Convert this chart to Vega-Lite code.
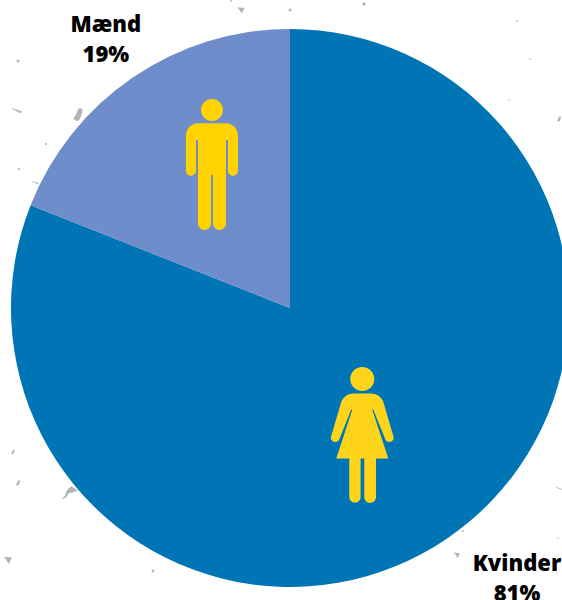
{
  "$schema": "https://vega.github.io/schema/vega-lite/v6.json",
  "width": 562,
  "height": 600,
  "padding": 0,
  "autosize": {"type": "none"},
  "background": "#ffffff",
  "config": {"view": {"stroke": null}},
  "datasets": {
    "shares": [
      {"gender": "Kvinder", "share": 81, "order": 1},
      {"gender": "Mænd", "share": 19, "order": 2}
    ],
    "specks": [
      {"x": -0.2115, "y": 1.1004, "kind": "dot", "mass": 3},
      {"x": -0.1756, "y": 1.0681, "kind": "flake", "mass": 49},
      {"x": 0.0, "y": 1.0681, "kind": "dot", "mass": 8},
      {"x": 0.2652, "y": 1.0896, "kind": "dot", "mass": 12},
      {"x": 0.8136, "y": 1.0287, "kind": "dot", "mass": 3},
      {"x": 0.8602, "y": 0.8925, "kind": "streak", "mass": 16},
      {"x": 0.7849, "y": 0.7455, "kind": "streak", "mass": 12},
      {"x": 0.9642, "y": 0.6774, "kind": "blob", "mass": 36},
      {"x": -0.9749, "y": 0.8853, "kind": "dot", "mass": 10},
      {"x": -0.9785, "y": 0.7097, "kind": "streak", "mass": 110},
      {"x": -0.7599, "y": 0.6918, "kind": "blob", "mass": 196},
      {"x": -0.8746, "y": 0.5878, "kind": "dot", "mass": 5},
      {"x": -0.9713, "y": 0.4982, "kind": "dot", "mass": 5},
      {"x": -0.914, "y": 0.4516, "kind": "streak", "mass": 60},
      {"x": -0.9928, "y": -0.5161, "kind": "blob", "mass": 25},
      {"x": -0.9749, "y": -0.6272, "kind": "blob", "mass": 36},
      {"x": -0.7885, "y": -0.6595, "kind": "wisp", "mass": 225},
      {"x": -1.0108, "y": -0.9032, "kind": "flake", "mass": 64},
      {"x": -0.491, "y": -0.9427, "kind": "dot", "mass": 8},
      {"x": 0.5986, "y": -0.8853, "kind": "flake", "mass": 36},
      {"x": 0.6201, "y": -0.7993, "kind": "dot", "mass": 4},
      {"x": 0.9642, "y": -0.6452, "kind": "streak", "mass": 36},
      {"x": 0.9606, "y": -0.8244, "kind": "dot", "mass": 2},
      {"x": 0.957, "y": -0.9498, "kind": "dot", "mass": 2}
    ]
  },
  "layer": [
    {
      "description": "Grey paper flecks behind the pie",
      "data": {"name": "specks"},
      "mark": {"type": "point", "filled": true, "opacity": 1, "color": "#b0b5ba", "strokeWidth": 0},
      "encoding": {
        "x": {"field": "x", "type": "quantitative", "scale": {"domain": [-1.0394, 0.9749], "nice": false, "zero": false}, "axis": null},
        "y": {"field": "y", "type": "quantitative", "scale": {"domain": [-1.0466, 1.1039], "nice": false, "zero": false}, "axis": null},
        "shape": {
          "field": "kind",
          "type": "nominal",
          "legend": null,
          "scale": {
            "domain": ["dot", "streak", "blob", "wisp", "flake"],
            "range": [
              "circle",
              "M-1,-0.35 L0.9,0.25 A0.3,0.3 0 0 1 0.7,0.6 L-1,-0.2 Z",
              "M0.35,-0.95 C0.7,-0.95 0.75,-0.5 0.55,-0.2 C0.45,0.2 0.3,0.6 0.1,0.75 C-0.2,0.95 -0.7,0.8 -0.6,0.4 C-0.4,0.1 -0.2,-0.2 -0.1,-0.55 C-0.05,-0.8 0.1,-0.95 0.35,-0.95 Z",
              "M0.18,-0.77 L1.1,-0.18 L-0.2,0.2 Q-0.4,0.8 -1,0.95 L-1,0.8 Q-0.6,0.6 -0.5,0 Q-0.3,-0.5 0.18,-0.77 Z",
              "M-1,-0.8 L1,-0.6 L0.2,1 Z"
            ]
          }
        },
        "size": {"field": "mass", "type": "quantitative", "legend": null, "scale": null}
      }
    },
    {
      "description": "Pie of the gender split, clockwise from twelve o'clock",
      "data": {"name": "shares"},
      "mark": {"type": "arc", "outerRadius": 279, "innerRadius": 0},
      "encoding": {
        "x": {"datum": 0, "type": "quantitative"},
        "y": {"datum": 0, "type": "quantitative"},
        "theta": {"field": "share", "type": "quantitative", "stack": true, "scale": {"domain": [0, 100]}},
        "order": {"field": "order"},
        "color": {
          "field": "gender",
          "type": "nominal",
          "legend": null,
          "scale": {"domain": ["Kvinder", "Mænd"], "range": ["#0075b5", "#6f8ccb"]}
        }
      }
    },
    {
      "description": "Man pictogram; path units are pixels at size 4",
      "mark": {
        "type": "point",
        "filled": true,
        "opacity": 1,
        "size": 4,
        "color": "#ffd200",
        "strokeWidth": 0,
        "shape": "M-14,-41.7 H14 C21,-41.7 26,-36 26,-29 V5.7 A5,5 0 0 1 16,5.7 V-25 H14 V58.5 A6.5,6.5 0 0 1 1,58.5 V10 H-1 V58.5 A6.5,6.5 0 0 1 -14,58.5 V-25 H-16 V5.7 A5,5 0 0 1 -26,5.7 V-29 C-26,-36 -21,-41.7 -14,-41.7 Z M11,-55 A11,11 0 1 1 -11,-55 A11,11 0 1 1 11,-55 Z"
      },
      "data": {"values": [{"gender": "Mænd"}]},
      "encoding": {
        "x": {"datum": -0.2796, "type": "quantitative"},
        "y": {"datum": 0.5125, "type": "quantitative"}
      }
    },
    {
      "description": "Woman pictogram; path units are pixels at size 4",
      "mark": {
        "type": "point",
        "filled": true,
        "opacity": 1,
        "size": 4,
        "color": "#ffd51c",
        "strokeWidth": 0,
        "shape": "M-9,-41.3 H9 C14,-41.3 19,-38 21,-33 L30.7,0.3 A4.2,4.2 0 0 1 23.3,5.3 L11,-25.3 L10,-25 L26,23.7 H13.7 V62.2 A5.85,5.85 0 0 1 2,62.2 V23.7 H-1.7 V62.2 A5.65,5.65 0 0 1 -13,62.2 V23.7 H-26 L-10,-25 L-11,-25.3 L-23.3,5.3 A4.2,4.2 0 0 1 -30.7,0.3 L-21,-33 C-19,-38 -14,-41.3 -9,-41.3 Z M12,-55.7 A12,12 0 1 1 -12,-55.7 A12,12 0 1 1 12,-55.7 Z"
      },
      "data": {"values": [{"gender": "Kvinder"}]},
      "encoding": {
        "x": {"datum": 0.2591, "type": "quantitative"},
        "y": {"datum": -0.4541, "type": "quantitative"}
      }
    },
    {
      "description": "Label for the men's slice",
      "data": {"name": "shares"},
      "transform": [
        {"filter": "datum.gender === 'Mænd'"},
        {"calculate": "datum.gender + '|' + datum.share + '%'", "as": "caption"}
      ],
      "mark": {"type": "text", "font": "Open Sans", "fontWeight": 800, "fontSize": 22, "lineBreak": "|", "lineHeight": 30, "align": "center", "baseline": "middle", "color": "#000000"},
      "encoding": {
        "x": {"datum": -0.66, "type": "quantitative"},
        "y": {"datum": 1.0145, "type": "quantitative"},
        "text": {"field": "caption"}
      }
    },
    {
      "description": "Label for the women's slice, running off the lower edge",
      "data": {"name": "shares"},
      "transform": [
        {"filter": "datum.gender === 'Kvinder'"},
        {"calculate": "datum.gender + '|' + datum.share + '%'", "as": "caption"}
      ],
      "mark": {"type": "text", "font": "Open Sans", "fontWeight": 800, "fontSize": 22, "lineBreak": "|", "lineHeight": 30, "align": "center", "baseline": "middle", "color": "#000000"},
      "encoding": {
        "x": {"datum": 0.8136, "type": "quantitative"},
        "y": {"datum": -0.9176, "type": "quantitative"},
        "text": {"field": "caption"}
      }
    }
  ]
}
